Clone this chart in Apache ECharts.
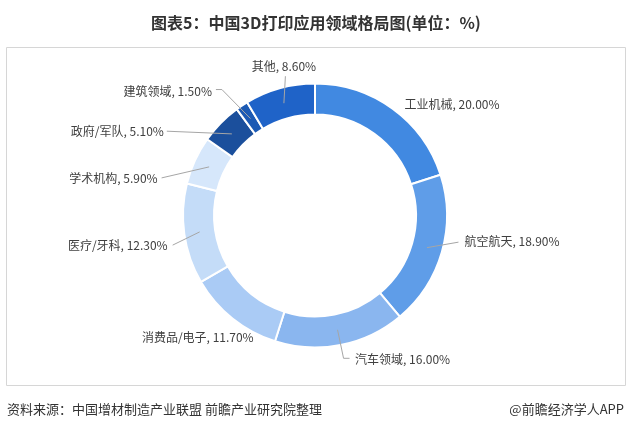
<!DOCTYPE html>
<html>
<head>
<meta charset="utf-8">
<script src="https://cdn.jsdelivr.net/npm/echarts@6/dist/echarts.min.js"></script>
<style>
html,body{margin:0;padding:0;background:#fff;}
#chart{width:632px;height:432px;}
</style>
</head>
<body>
<div id="chart"></div>
<script>
// ---- data ----
const categories = ['工业机械', '航空航天', '汽车领域', '消费品/电子', '医疗/牙科', '学术机构', '政府/军队', '建筑领域', '其他'];
const shares = [20.00, 18.90, 16.00, 11.70, 12.30, 5.90, 5.10, 1.50, 8.60];
const titleText = '图表5：中国3D打印应用领域格局图(单位：%)';
const sourceText = '资料来源：中国增材制造产业联盟 前瞻产业研究院整理';
const creditText = '@前瞻经济学人APP';

// ---- styles ----
const colors = ['#4189E1', '#5F9DE8', '#8AB6EF', '#AACBF5', '#C4DCF8', '#D6E7FB', '#1B4F9C', '#1C5AB4', '#1F63C8'];
const FONT = "'Noto Sans CJK SC', 'Noto Sans', sans-serif";
// label placement relative to the label-line anchor (mid ring): text offset, alignment, line points
const labelPlacement = [
  { tx: 21, ty: -16.5, align: 'left', line: null },
  { tx: 37.5, ty: -6, align: 'left', line: [[31.5, -5.5], [31.5, -5.5]] },
  { tx: 17.5, ty: 29.5, align: 'left', line: [[6, 28.5], [12, 28.5]] },
  { tx: 11.5, ty: 31.5, align: 'right', line: null },
  { tx: -32, ty: 14, align: 'right', line: [[-27, 13.2], [-27, 13.2]] },
  { tx: -51.5, ty: 11.3, align: 'right', line: [[-47.5, 11], [-47.5, 11]] },
  { tx: -68, ty: -2.5, align: 'right', line: [[-65, -2.7], [-65, -2.7]] },
  { tx: -38.5, ty: -27.5, align: 'right', line: [[-28.5, -29], [-34.5, -29]] },
  { tx: 0, ty: -36.5, align: 'center', line: [[1.5, -27], [1.5, -27]] }
];

const pieData = categories.map((c, i) => ({ name: c, value: shares[i] }));

const chart = echarts.init(document.getElementById('chart'), null, { renderer: 'canvas' });
chart.setOption({
  animation: false,
  backgroundColor: '#ffffff',
  color: colors,
  title: {
    text: titleText,
    left: 'center',
    top: 10,
    textStyle: { fontFamily: FONT, fontSize: 16, fontWeight: 'bold', color: '#333333' }
  },
  graphic: [
    { type: 'rect', silent: true, z: -1, shape: { x: 6.5, y: 47.5, width: 619, height: 338 },
      style: { fill: null, stroke: '#d6d6d6', lineWidth: 1 } },
    { type: 'text', left: 7, top: 403, style: { text: sourceText, font: '13px ' + FONT, fill: '#333333' } },
    { type: 'text', right: 8, top: 403, style: { text: creditText, font: '13px ' + FONT, fill: '#333333' } }
  ],
  series: [
    {
      type: 'pie',
      z: 2,
      center: [315, 215.5],
      radius: [101, 132],
      startAngle: 90,
      clockwise: true,
      silent: true,
      label: { show: false },
      labelLine: { show: false },
      itemStyle: { borderColor: '#ffffff', borderWidth: 2 },
      data: pieData
    },
    {
      type: 'pie',
      z: 5,
      center: [315, 215.5],
      radius: [0, 116.5],
      startAngle: 90,
      clockwise: true,
      silent: true,
      avoidLabelOverlap: false,
      itemStyle: { color: 'rgba(0,0,0,0)', borderWidth: 0 },
      label: {
        show: true,
        formatter: p => p.name + ', ' + p.value.toFixed(2) + '%',
        fontFamily: FONT,
        fontSize: 12,
        color: '#404040'
      },
      labelLine: { show: true, length: 10, length2: 10, lineStyle: { color: '#a6a6a6', width: 1 } },
      labelLayout: function (p) {
        const pts = p.labelLinePoints;
        const a = [pts[0][0], pts[0][1]];
        const o = labelPlacement[p.dataIndex];
        const line = o.line
          ? [a, [a[0] + o.line[0][0], a[1] + o.line[0][1]], [a[0] + o.line[1][0], a[1] + o.line[1][1]]]
          : [a, a, a];
        return {
          x: a[0] + o.tx,
          y: a[1] + o.ty,
          align: o.align,
          verticalAlign: 'middle',
          labelLinePoints: line
        };
      },
      data: pieData
    }
  ]
});
</script>
</body>
</html>
